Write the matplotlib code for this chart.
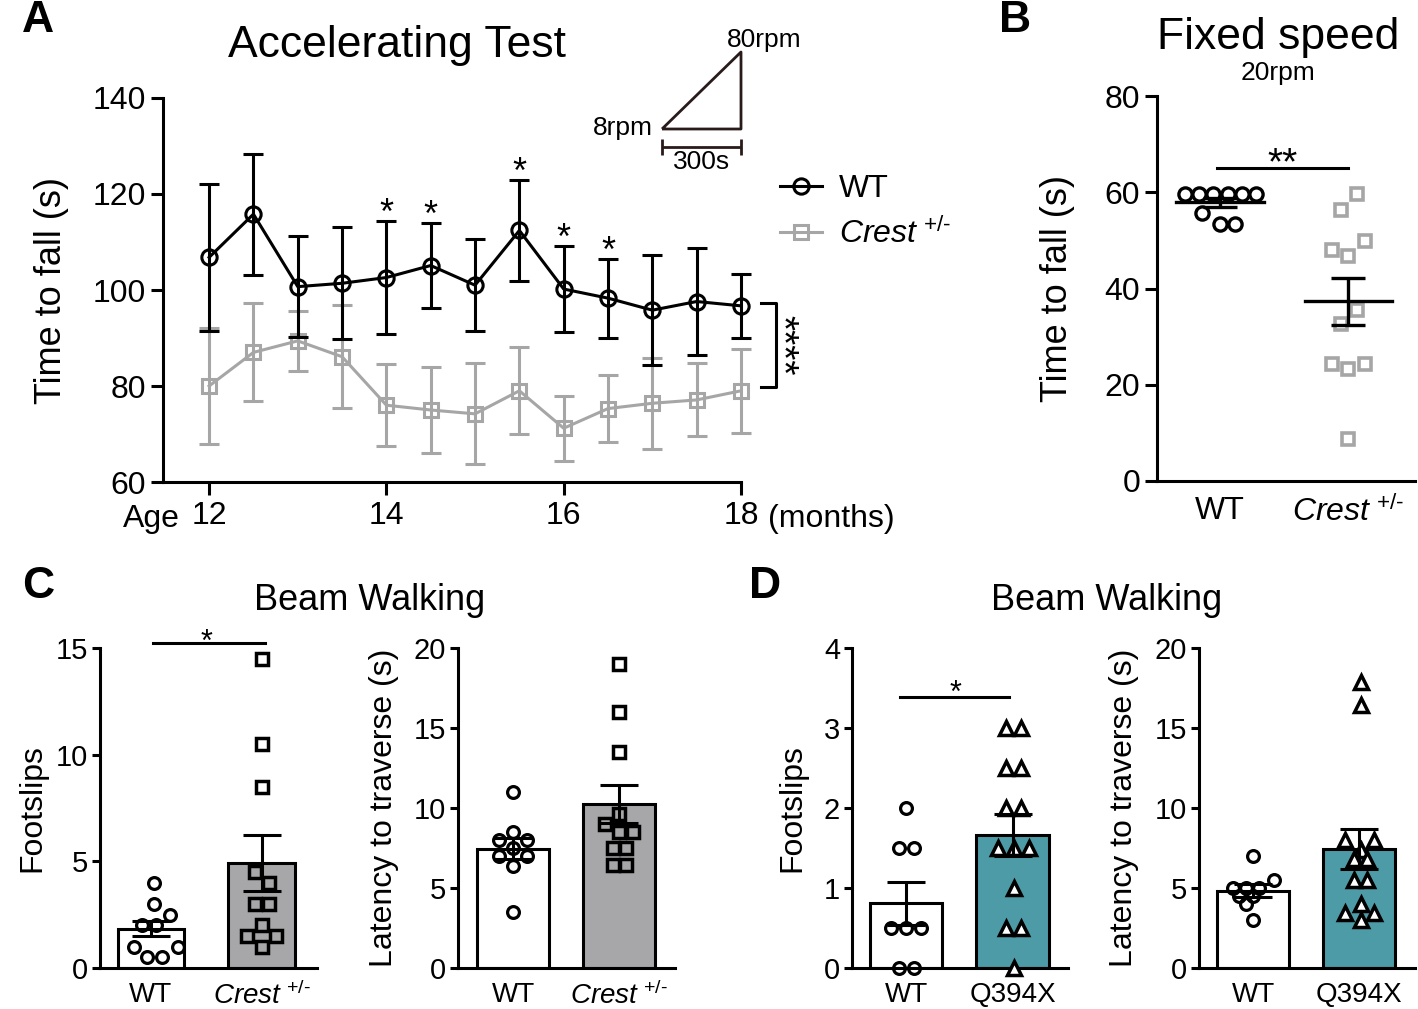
import numpy as np
import matplotlib.pyplot as plt
from matplotlib.lines import Line2D

plt.rcParams['font.family'] = 'Liberation Sans'
plt.rcParams['mathtext.fontset'] = 'custom'
plt.rcParams['mathtext.rm'] = 'Liberation Sans'
plt.rcParams['mathtext.it'] = 'Liberation Sans:italic'

W, H = 1418, 1009
GREY = '#a6a6a6'
TEAL = '#4d9ba6'
BARGREY = '#a7a7aa'
CREST = r'$\mathit{Crest}^{\ \text{+/-}}$'

# ---- A: accelerating rotarod
age = [12, 12.5, 13, 13.5, 14, 14.5, 15, 15.5, 16, 16.5, 17, 17.5, 18]
wt_acc = [106.8, 115.8, 100.7, 101.4, 102.6, 105.1, 101.0, 112.4, 100.2, 98.3, 95.8, 97.6, 96.7]
wt_acc_err = [15.3, 12.6, 10.5, 11.7, 11.8, 8.8, 9.6, 10.5, 9.0, 8.2, 11.4, 11.1, 6.6]
crest_acc = [80.0, 87.0, 89.4, 86.1, 76.0, 75.0, 74.2, 79.0, 71.2, 75.3, 76.4, 77.1, 79.0]
crest_acc_err = [12.0, 10.2, 6.2, 10.7, 8.5, 9.0, 10.5, 9.1, 6.8, 7.0, 9.5, 7.6, 8.8]
acc_sig = [14, 14.5, 15.5, 16, 16.5]

# ---- B: fixed speed
wt_fixed = [59.7, 59.7, 59.7, 59.7, 59.7, 59.7, 55.7, 53.3, 53.3]
wt_fixed_x = [-0.27, -0.16, -0.05, 0.06, 0.17, 0.28, -0.14, 0.0, 0.12]
crest_fixed = [59.6, 56.3, 49.9, 48.0, 46.8, 35.6, 32.7, 24.4, 23.2, 24.4, 8.8]
crest_fixed_x = [1.07, 0.94, 1.13, 0.87, 1.0, 1.07, 0.94, 0.87, 1.0, 1.13, 1.0]
fixed_mean = [57.9, 37.3]
fixed_sem = [0.9, 4.85]

# ---- C: beam walking, Crest
c_slip_mean = [1.85, 4.93]
c_slip_sem = [0.33, 1.3]
c_slip_wt = [4.0, 3.0, 2.5, 2.0, 2.0, 1.0, 1.0, 0.5, 0.5]
c_slip_wt_x = [0.03, 0.03, 0.17, -0.08, 0.05, -0.15, 0.24, -0.04, 0.1]
c_slip_cr = [14.5, 10.5, 8.5, 4.5, 4.0, 3.0, 3.0, 2.0, 1.5, 1.5, 1.0]
c_slip_cr_x = [1.0, 1.0, 1.0, 0.94, 1.07, 0.94, 1.07, 1.0, 0.87, 1.13, 1.0]

c_lat_mean = [7.45, 10.24]
c_lat_sem = [0.65, 1.19]
c_lat_wt = [11.0, 8.5, 8.0, 8.0, 7.5, 7.0, 7.0, 6.4, 3.5]
c_lat_wt_x = [0.0, 0.0, -0.13, 0.13, 0.0, -0.13, 0.13, 0.0, 0.0]
c_lat_cr = [19.0, 16.0, 13.5, 9.6, 9.0, 8.5, 8.5, 7.5, 7.5, 6.46, 6.46]
c_lat_cr_x = [1.0, 1.0, 1.0, 1.0, 0.87, 1.0, 1.13, 0.94, 1.07, 0.94, 1.07]

# ---- D: beam walking, Q394X
d_slip_mean = [0.81, 1.66]
d_slip_sem = [0.27, 0.26]
d_slip_wt = [2.0, 1.5, 1.5, 0.5, 0.5, 0.5, 0.0, 0.0]
d_slip_wt_x = [0.0, -0.07, 0.07, -0.14, 0.0, 0.14, -0.07, 0.07]
d_slip_q = [3.0, 3.0, 2.5, 2.5, 2.0, 2.0, 1.5, 1.5, 1.5, 1.0, 0.5, 0.5, 0.0]
d_slip_q_x = [0.94, 1.08, 0.94, 1.08, 0.94, 1.08, 0.86, 1.01, 1.15, 1.01, 0.94, 1.08, 1.01]

d_lat_mean = [4.83, 7.41]
d_lat_sem = [0.4, 1.25]
d_lat_wt = [7.0, 5.5, 5.0, 5.0, 5.0, 4.5, 4.5, 4.0, 3.0]
d_lat_wt_x = [0.0, 0.2, -0.19, -0.07, 0.06, -0.13, 0.0, -0.07, 0.0]
d_lat_q = [17.9, 16.45, 8.0, 8.0, 7.4, 6.8, 6.8, 5.5, 5.5, 4.0, 3.45, 3.45, 3.0]
d_lat_q_x = [1.02, 1.02, 0.87, 1.14, 1.02, 0.95, 1.08, 0.95, 1.08, 1.02, 0.87, 1.14, 1.02]


fig = plt.figure(figsize=(W / 100, H / 100), dpi=100)


def pos(left, top, right, bottom):
    return [left / W, 1 - bottom / H, (right - left) / W, (bottom - top) / H]


def ftext(x, y, s, **kw):
    fig.text(x / W, 1 - y / H, s, **kw)


def fline(xs, ys, **kw):
    fig.add_artist(Line2D([x / W for x in xs], [1 - y / H for y in ys],
                          transform=fig.transFigure, **kw))


def style(ax, ylen, yfs):
    for s in ['top', 'right']:
        ax.spines[s].set_visible(False)
    for s in ['left', 'bottom']:
        ax.spines[s].set_linewidth(2.2)
    ax.tick_params(axis='y', direction='out', length=ylen, width=2.2, labelsize=yfs, pad=3)


def noclip(container):
    for art in container.get_children():
        art.set_clip_on(False)


def star(ax, x, y, s, fs, dy):
    ax.annotate(s, (x, y), xytext=(0, dy), textcoords='offset points',
                ha='center', va='baseline', fontsize=fs, annotation_clip=False)


# ================= A
axA = fig.add_axes(pos(163, 98, 741, 482))
style(axA, 9, 23)
eb = axA.errorbar(age, crest_acc, yerr=crest_acc_err, fmt='none', ecolor=GREY,
                  elinewidth=2.2, capsize=7, capthick=2.2, zorder=2)
noclip(eb)
l_cr, = axA.plot(age, crest_acc, color=GREY, lw=2.2, marker='s', ms=10, mfc='none',
                 mew=2.2, clip_on=False, zorder=3)
eb = axA.errorbar(age, wt_acc, yerr=wt_acc_err, fmt='none', ecolor='black',
                  elinewidth=2.2, capsize=7, capthick=2.2, zorder=4)
noclip(eb)
l_wt, = axA.plot(age, wt_acc, color='black', lw=2.2, marker='o', ms=11, mfc='none',
                 mew=2.2, clip_on=False, zorder=5)
for a in acc_sig:
    i = age.index(a)
    star(axA, a, wt_acc[i] + wt_acc_err[i], '*', 26, -2)

axA.set_xlim(11.48, 18)
axA.set_ylim(60, 140)
axA.set_yticks([60, 80, 100, 120, 140])
axA.set_xticks([12, 14, 16, 18])
axA.tick_params(axis='x', direction='out', length=9, width=2.2, labelsize=23, pad=5)
axA.set_ylabel('Time to fall (s)', fontsize=26)
axA.yaxis.set_label_coords(-0.163, 0.5)

# overall difference bracket
axA.plot([18.23, 18.39, 18.39, 18.23], [97.2, 97.2, 79.8, 79.8], color='black',
         lw=2.2, clip_on=False)
axA.text(18.45, 88.5, '****', rotation=270, ha='center', va='center', fontsize=28)

leg = axA.legend([l_wt, l_cr], ['WT', CREST], loc='center left',
                 bbox_to_anchor=(780 / W, 1 - 212 / H), bbox_transform=fig.transFigure,
                 frameon=False, fontsize=23, handlelength=1.3, handletextpad=0.55,
                 labelspacing=0.45, borderpad=0, borderaxespad=0)

ftext(180, 527, 'Age', fontsize=23, ha='right', va='baseline')
ftext(768, 527, '(months)', fontsize=23, ha='left', va='baseline')
ftext(397, 46, 'Accelerating Test', fontsize=32, ha='center', va='center')

# protocol sketch
tri = dict(color='#2a1b1b', lw=2, solid_capstyle='butt')
fline([662, 741, 741, 662], [129, 129, 52, 129], **tri)
fline([662, 741], [147, 147], **tri)
fline([662, 662], [139, 155], **tri)
fline([741, 741], [139, 155], **tri)
ftext(623, 128, '8rpm', fontsize=19, ha='center', va='center')
ftext(764, 40, '80rpm', fontsize=19, ha='center', va='center')
ftext(702, 162, '300s', fontsize=19, ha='center', va='center')

# ================= B
axB = fig.add_axes(pos(1157, 96, 1415, 481))
style(axB, 9, 23)
axB.plot(wt_fixed_x, wt_fixed, 'o', ms=9.5, mfc='none', mec='black', mew=2.4,
         clip_on=False, zorder=3)
axB.plot(crest_fixed_x, crest_fixed, 's', ms=8, mfc='none', mec=GREY, mew=2.6,
         clip_on=False, zorder=3)
for x, m, s in zip([0, 1], fixed_mean, fixed_sem):
    axB.plot([x - 0.34, x + 0.34], [m, m], color='black', lw=2.4, zorder=4)
    eb = axB.errorbar(x, m, yerr=s, fmt='none', ecolor='black', elinewidth=2.4,
                      capsize=12, capthick=2.4, zorder=4)
axB.plot([-0.02, 1.0], [65.1, 65.1], color='black', lw=2.2)
star(axB, 0.49, 65.1, '**', 28, -4.5)
axB.set_xlim(-0.49, 1.52)
axB.set_ylim(0, 80)
axB.set_yticks([0, 20, 40, 60, 80])
axB.set_xticks([0, 1])
axB.set_xticklabels(['WT', CREST])
axB.tick_params(axis='x', length=0, labelsize=23, pad=11)
axB.set_ylabel('Time to fall (s)', fontsize=26)
axB.yaxis.set_label_coords(-0.318, 0.5)
ftext(1278, 38, 'Fixed speed', fontsize=32, ha='center', va='center')
ftext(1278, 73, '20rpm', fontsize=19, ha='center', va='center')


# ================= C / D bar panels
def bar_panel(rect, means, sems, fill, wt, wt_x, mut, mut_x, mut_marker, mut_fc,
              ylim, yticks, ylabel, lab_x, names, width):
    ax = fig.add_axes(rect)
    style(ax, 5.5, 21)
    ax.bar([0, 1], means, width=width, color=['white', fill], edgecolor='black',
           linewidth=2.2, zorder=1)
    ax.plot(wt_x, wt, 'o', ms=8.5, mfc='none', mec='black', mew=2.3, clip_on=False, zorder=4)
    ax.plot(mut_x, mut, mut_marker, ms=8 if mut_marker == 's' else 9.5, mfc=mut_fc,
            mec='black', mew=2.5, clip_on=False, zorder=4)
    eb = ax.errorbar([0, 1], means, yerr=sems, fmt='none', ecolor='black',
                     elinewidth=2.2, capsize=14, capthick=2.2, zorder=5)
    noclip(eb)
    ax.set_ylim(*ylim)
    ax.set_yticks(yticks)
    ax.set_xticks([0, 1])
    ax.set_xticklabels(names)
    ax.tick_params(axis='x', length=0, labelsize=20, pad=10)
    ax.set_ylabel(ylabel, fontsize=23)
    ax.yaxis.set_label_coords(lab_x, 0.5)
    return ax


axC1 = bar_panel(pos(100, 648, 317, 968), c_slip_mean, c_slip_sem, BARGREY,
                 c_slip_wt, c_slip_wt_x, c_slip_cr, c_slip_cr_x, 's', 'none',
                 (0, 15), [0, 5, 10, 15], 'Footslips', -0.244, ['WT', CREST], 0.6)
axC1.set_xlim(-0.46, 1.5)
axC1.plot([0.02, 1.03], [15.23, 15.23], color='black', lw=2.2, clip_on=False)
star(axC1, 0.5, 15.23, '*', 22, -5.5)

axC2 = bar_panel(pos(458, 648, 675, 968), c_lat_mean, c_lat_sem, BARGREY,
                 c_lat_wt, c_lat_wt_x, c_lat_cr, c_lat_cr_x, 's', 'none',
                 (0, 20), [0, 5, 10, 15, 20], 'Latency to traverse (s)', -0.272,
                 ['WT', CREST], 0.68)
axC2.set_xlim(-0.52, 1.53)

axD1 = bar_panel(pos(852, 648, 1068, 968), d_slip_mean, d_slip_sem, TEAL,
                 d_slip_wt, d_slip_wt_x, d_slip_q, d_slip_q_x, '^', 'white',
                 (0, 4), [0, 1, 2, 3, 4], 'Footslips', -0.208, ['WT', 'Q394X'], 0.68)
axD1.set_xlim(-0.51, 1.52)
axD1.plot([-0.06, 0.97], [3.39, 3.39], color='black', lw=2.2, clip_on=False)
star(axD1, 0.46, 3.39, '*', 22, -4)

axD2 = bar_panel(pos(1199, 648, 1415, 968), d_lat_mean, d_lat_sem, TEAL,
                 d_lat_wt, d_lat_wt_x, d_lat_q, d_lat_q_x, '^', 'white',
                 (0, 20), [0, 5, 10, 15, 20], 'Latency to traverse (s)', -0.278,
                 ['WT', 'Q394X'], 0.68)
axD2.set_xlim(-0.51, 1.53)

ftext(370, 600, 'Beam Walking', fontsize=26, ha='center', va='center')
ftext(1107, 600, 'Beam Walking', fontsize=26, ha='center', va='center')

# panel letters
for letter, x, y in [('A', 38, 21), ('B', 1015, 21), ('C', 38, 586), ('D', 765, 586)]:
    ftext(x, y, letter, fontsize=32, fontweight='bold', ha='center', va='center')

fig.savefig('out.png', dpi=100)
